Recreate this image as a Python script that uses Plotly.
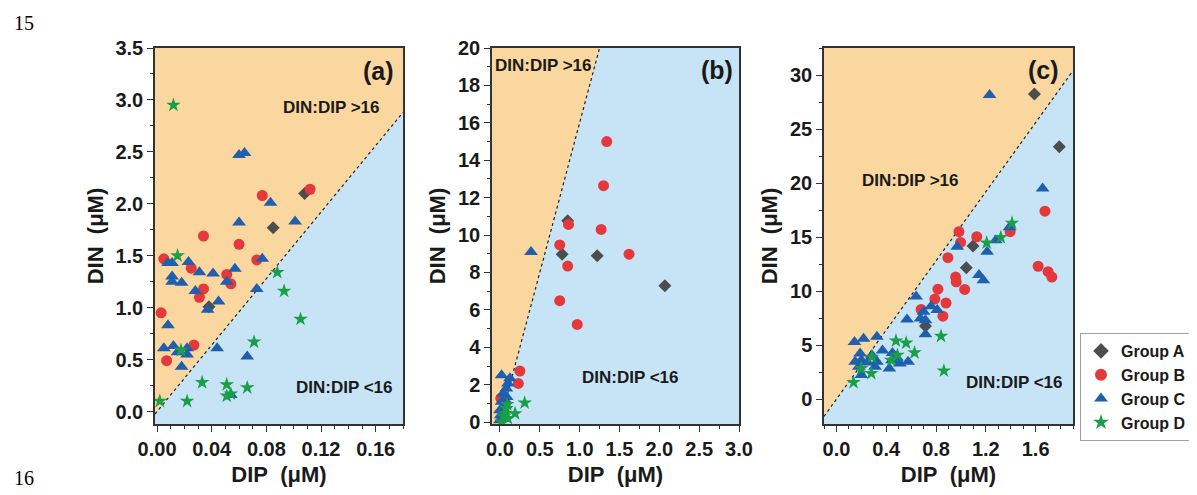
import plotly.graph_objects as go

# The page body adds an 8 px margin, so the figure is drawn 8 px smaller and
# every target pixel position is shifted by that offset.
WIN_W, WIN_H = 1197, 495
OFF = 8
W, H = WIN_W - OFF, WIN_H - OFF
RATIO = 16

# ---------------- data ----------------
# Panel (a)
a_A_x = [0.108, 0.085, 0.038]
a_A_y = [2.10, 1.77, 1.01]
a_B_x = [0.077, 0.112, 0.034, 0.060, 0.005, 0.025, 0.051, 0.073, 0.054, 0.034, 0.031, 0.003, 0.027, 0.007]
a_B_y = [2.08, 2.14, 1.69, 1.61, 1.47, 1.38, 1.32, 1.46, 1.23, 1.18, 1.10, 0.95, 0.64, 0.49]
a_C_x = [0.060, 0.064, 0.083, 0.060, 0.101, 0.008, 0.011, 0.023, 0.031, 0.041, 0.057, 0.077, 0.011, 0.011,
         0.018, 0.051, 0.028, 0.073, 0.045, 0.037, 0.008, 0.005, 0.012, 0.015, 0.022, 0.022, 0.018, 0.044,
         0.066, 0.054]
a_C_y = [2.47, 2.49, 2.01, 1.82, 1.83, 1.43, 1.43, 1.44, 1.34, 1.33, 1.375, 1.47, 1.30, 1.25,
         1.24, 1.25, 1.16, 1.18, 1.06, 0.98, 0.83, 0.61, 0.63, 0.57, 0.61, 0.55, 0.43, 0.61,
         0.53, 0.16]
a_D_x = [0.012, 0.015, 0.0175, 0.071, 0.088, 0.093, 0.105, 0.033, 0.051, 0.051, 0.054, 0.066, 0.002, 0.022]
a_D_y = [2.95, 1.50, 0.59, 0.67, 1.34, 1.16, 0.89, 0.28, 0.26, 0.15, 0.17, 0.23, 0.10, 0.10]

# Panel (b)
b_A_x = [0.85, 0.78, 1.22, 2.07]
b_A_y = [10.77, 8.98, 8.9, 7.29]
b_B_x = [1.34, 1.30, 0.86, 1.27, 0.75, 1.62, 0.85, 0.75, 0.97, 0.25, 0.23, 0.01]
b_B_y = [15.0, 12.64, 10.57, 10.3, 9.47, 8.98, 8.34, 6.49, 5.22, 2.73, 2.07, 1.27]
b_C_x = [0.39, 0.02, 0.125, 0.10, 0.08, 0.04, 0.085, 0.02, 0.07, 0.0, 0.01, 0.0, 0.04, 0.06, 0.03]
b_C_y = [9.1, 2.5, 2.34, 2.07, 1.8, 1.53, 1.35, 1.09, 0.9, 0.64, 0.37, 0.1, 0.2, 1.2, 0.75]
b_D_x = [0.31, 0.19, 0.08, 0.06, 0.10, 0.02, 0.09, 0.05]
b_D_y = [1.03, 0.46, 0.73, 0.46, 0.2, 0.02, 0.95, 0.3]

# Panel (c)
c_A_x = [1.59, 1.79, 1.097, 1.043, 0.715]
c_A_y = [28.24, 23.36, 14.17, 12.16, 6.76]
c_B_x = [1.675, 1.395, 1.127, 0.984, 0.997, 0.895, 0.957, 0.962, 1.03, 0.815, 0.79, 0.88, 0.855, 0.68,
         1.62, 1.70, 1.73]
c_B_y = [17.4, 15.5, 15.03, 15.5, 14.5, 13.09, 11.3, 10.86, 10.15, 10.18, 9.26, 8.9, 7.68, 8.3,
         12.3, 11.8, 11.3]
c_C_x = [1.23, 1.656, 1.39, 1.28, 1.21, 0.97, 1.145, 1.18, 0.64, 0.76, 0.81, 0.70, 0.675, 0.715, 0.715,
         0.567, 0.145, 0.218, 0.325, 0.37, 0.45, 0.486, 0.446, 0.51, 0.575, 0.425, 0.19, 0.20, 0.15,
         0.285, 0.325, 0.31, 0.18, 0.20, 0.25]
c_C_y = [28.15, 19.5, 15.9, 14.7, 13.64, 14.1, 11.48, 11.0, 9.5, 8.6, 8.24, 8.08, 7.46, 7.3, 6.0,
         7.38, 5.3, 5.6, 5.77, 4.5, 4.26, 3.83, 3.6, 3.3, 3.45, 2.84, 4.23, 3.6, 3.45,
         4.07, 3.45, 3.0, 3.0, 2.23, 3.4]
c_D_x = [1.41, 1.32, 1.207, 0.84, 0.863, 0.478, 0.56, 0.627, 0.49, 0.44, 0.285, 0.20, 0.28, 0.137]
c_D_y = [16.3, 14.97, 14.47, 5.83, 2.62, 5.4, 5.2, 4.3, 4.07, 3.6, 3.9, 2.84, 2.38, 1.55]

group_names = ["Group A", "Group B", "Group C", "Group D"]

# tick settings per panel
a_xticks = [0.00, 0.04, 0.08, 0.12, 0.16]
a_xticktext = ["0.00", "0.04", "0.08", "0.12", "0.16"]
a_yticks = [0.0, 0.5, 1.0, 1.5, 2.0, 2.5, 3.0, 3.5]
a_yticktext = ["0.0", "0.5", "1.0", "1.5", "2.0", "2.5", "3.0", "3.5"]
b_xticks = [0.0, 0.5, 1.0, 1.5, 2.0, 2.5, 3.0]
b_xticktext = ["0.0", "0.5", "1.0", "1.5", "2.0", "2.5", "3.0"]
b_yticks = [0, 2, 4, 6, 8, 10, 12, 14, 16, 18, 20]
b_yticktext = [str(v) for v in b_yticks]
c_xticks = [0.0, 0.4, 0.8, 1.2, 1.6]
c_xticktext = ["0.0", "0.4", "0.8", "1.2", "1.6"]
c_yticks = [0, 5, 10, 15, 20, 25, 30]
c_yticktext = [str(v) for v in c_yticks]

# ---------------- styles ----------------
ORANGE = "#FAD79F"
BLUE = "#C6E4F6"
AXC = "#333333"
TXT = "#1a1a1a"
FONT = "Liberation Sans"
styles = {
    "Group A": dict(symbol="diamond", color="#4D4D4D", size=10),
    "Group B": dict(symbol="circle", color="#E5383B", size=11),
    "Group C": dict(symbol="triangle-up", color="#1F5FAE", size=12),
    "Group D": dict(symbol="star", color="#1B9E48", size=11),
}


def xp(px):
    return (px - OFF) / W


def yp(py):
    return 1 - (py - OFF) / H


panels = [
    dict(name="(a)", xr=[-0.0015, 0.18], yr=[-0.12, 3.5],
         data=[(a_A_x, a_A_y), (a_B_x, a_B_y), (a_C_x, a_C_y), (a_D_x, a_D_y)],
         xt=(a_xticks, a_xticktext), yt=(a_yticks, a_yticktext), xminor=0.01, yminor=0.25,
         dom_px=(155, 403)),
    dict(name="(b)", xr=[-0.1, 3.0], yr=[-0.1, 20],
         data=[(b_A_x, b_A_y), (b_B_x, b_B_y), (b_C_x, b_C_y), (b_D_x, b_D_y)],
         xt=(b_xticks, b_xticktext), yt=(b_yticks, b_yticktext), xminor=0.25, yminor=1,
         dom_px=(492, 739)),
    dict(name="(c)", xr=[-0.1, 1.9], yr=[-2.3, 32.5],
         data=[(c_A_x, c_A_y), (c_B_x, c_B_y), (c_C_x, c_C_y), (c_D_x, c_D_y)],
         xt=(c_xticks, c_xticktext), yt=(c_yticks, c_yticktext), xminor=0.1, yminor=2.5,
         dom_px=(824, 1073)),
]

TOP_PX, BOT_PX = 48, 424
ydom = [yp(BOT_PX), yp(TOP_PX)]

fig = go.Figure()

for i, p in enumerate(panels):
    sfx = "" if i == 0 else str(i + 1)
    xa, ya = "x" + sfx, "y" + sfx
    x0, x1 = p["xr"]
    big = p["yr"][1] * 20
    # region above DIN:DIP = 16
    fig.add_trace(go.Scatter(x=[x0, x1, x1, x0], y=[RATIO * x0, RATIO * x1, big, big],
                             fill="toself", fillcolor=ORANGE, mode="lines", line=dict(width=0),
                             hoverinfo="skip", showlegend=False, xaxis=xa, yaxis=ya))
    # 16:1 line
    fig.add_trace(go.Scatter(x=[x0, x1], y=[RATIO * x0, RATIO * x1], mode="lines",
                             line=dict(color="#222222", width=1.2, dash="dot"),
                             hoverinfo="skip", showlegend=False, xaxis=xa, yaxis=ya))
    for g, (gx, gy) in zip(group_names, p["data"]):
        st = styles[g]
        fig.add_trace(go.Scatter(x=gx, y=gy, mode="markers", name=g, legendgroup=g,
                                 showlegend=(i == 2),
                                 marker=dict(symbol=st["symbol"], color=st["color"], size=st["size"],
                                             line=dict(width=0)),
                                 xaxis=xa, yaxis=ya))

    axis_common = dict(showline=True, linecolor=AXC, linewidth=1.5, mirror=True,
                       ticks="outside", ticklen=6, tickwidth=1.2, tickcolor=AXC,
                       showgrid=False, zeroline=False, automargin=False,
                       tickfont=dict(family=FONT, size=20, color=TXT, weight="bold"))
    xd = [xp(p["dom_px"][0]), xp(p["dom_px"][1])]
    fig.layout["xaxis" + sfx] = dict(
        axis_common, domain=xd, range=p["xr"], anchor=ya,
        tickmode="array", tickvals=p["xt"][0], ticktext=p["xt"][1],
        minor=dict(dtick=p["xminor"], tick0=0, ticks="outside", ticklen=3, tickcolor=AXC, tickwidth=1),
        title=dict(text="DIP\u00a0 (μM)", font=dict(family=FONT, size=22, color=TXT, weight="bold"),
                   standoff=8))
    fig.layout["yaxis" + sfx] = dict(
        axis_common, domain=ydom, range=p["yr"], anchor=xa,
        tickmode="array", tickvals=p["yt"][0], ticktext=p["yt"][1],
        minor=dict(dtick=p["yminor"], tick0=0, ticks="outside", ticklen=3, tickcolor=AXC, tickwidth=1),
        title=dict(text="DIN\u00a0 (μM)", font=dict(family=FONT, size=22, color=TXT, weight="bold"),
                   standoff=6))


def ann(text, px, py, size, xanchor="center"):
    return dict(text=text, x=xp(px), y=yp(py), xref="paper", yref="paper",
                showarrow=False, xanchor=xanchor, yanchor="middle",
                font=dict(family=FONT, size=size, color=TXT, weight="bold"))


annotations = [
    ann("(a)", 378, 71, 25), ann("DIN:DIP >16", 331, 108, 17), ann("DIN:DIP <16", 344, 387, 17),
    ann("(b)", 717, 70, 25), ann("DIN:DIP >16", 543, 65, 17), ann("DIN:DIP <16", 630, 377, 17),
    ann("(c)", 1043, 70, 25), ann("DIN:DIP >16", 910, 180, 17), ann("DIN:DIP <16", 1014, 382, 17),
]
annotations.append(dict(text="15", x=xp(12), y=yp(10), xref="paper", yref="paper", showarrow=False,
                        xanchor="left", yanchor="top",
                        font=dict(family="Liberation Serif", size=20, color="#000000")))
annotations.append(dict(text="16", x=xp(12), y=yp(478), xref="paper", yref="paper", showarrow=False,
                        xanchor="left", yanchor="middle",
                        font=dict(family="Liberation Serif", size=20, color="#000000")))

fig.update_layout(
    width=W, height=H, autosize=False,
    margin=dict(l=0, r=0, t=0, b=0, autoexpand=False),
    paper_bgcolor="white", plot_bgcolor=BLUE,
    font=dict(family=FONT, color=TXT),
    annotations=annotations,
    showlegend=True,
    legend=dict(x=xp(1080), y=yp(333), xanchor="left", yanchor="top",
                bordercolor="#A0A0A0", borderwidth=1, bgcolor="white",
                font=dict(family=FONT, size=16, color=TXT, weight="bold"),
                tracegroupgap=0, itemsizing="constant"),
)

fig.write_html("out.html")
